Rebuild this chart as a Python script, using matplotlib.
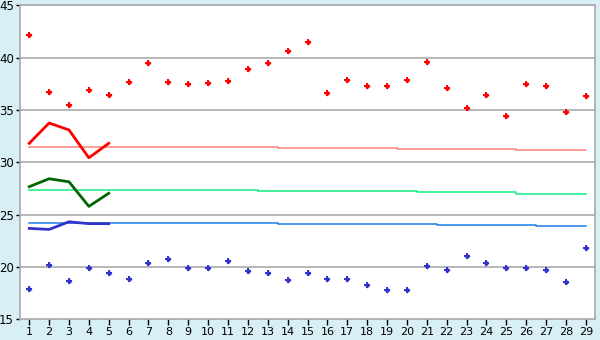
import matplotlib
matplotlib.use("Agg")
import matplotlib.pyplot as plt

x = list(range(1, 30))
x_short = [1, 2, 3, 4, 5]

red_points = [42.2, 36.7, 35.5, 36.9, 36.4, 37.65, 39.45, 37.65, 37.45, 37.55,
              37.75, 38.9, 39.45, 40.6, 41.45, 36.6, 37.9, 37.25, 37.25, 37.85,
              39.55, 37.15, 35.15, 36.4, 34.4, 37.45, 37.25, 34.8, 36.3]
blue_points = [17.9, 20.25, 18.65, 19.9, 19.4, 18.85, 20.35, 20.75, 19.95, 19.95,
               20.55, 19.6, 19.4, 18.75, 19.4, 18.85, 18.85, 18.25, 17.8, 17.8,
               20.15, 19.7, 21.1, 20.35, 19.9, 19.95, 19.75, 18.55, 21.85]

red_avg = [31.47] * 13 + [31.37] * 6 + [31.25] * 6 + [31.15] * 4
green_avg = [27.33] * 12 + [27.24] * 8 + [27.14] * 5 + [26.95] * 4
blue_avg = [24.18] * 13 + [24.08] * 8 + [23.99] * 5 + [23.89] * 3

red_line = [31.82, 33.76, 33.1, 30.44, 31.82]
green_line = [27.68, 28.44, 28.15, 25.8, 27.05]
blue_line = [23.7, 23.6, 24.33, 24.15, 24.15]

yticks = [15, 20, 25, 30, 35, 40, 45]

fig = plt.figure(figsize=(6, 3.4), dpi=100)
fig.patch.set_facecolor("#d9eff6")
ax = fig.add_axes([0.0338, 0.0603, 0.9584, 0.9241])
ax.set_facecolor("white")

for yv in yticks[1:]:
    ax.axhline(yv, color="#aaaaaa", lw=1.2, zorder=1)

ax.plot(x, red_avg, color="#ff7f7f", lw=1.1, drawstyle="steps-mid", zorder=2)
ax.plot(x, green_avg, color="#11ee80", lw=1.1, drawstyle="steps-mid", zorder=2)
ax.plot(x, blue_avg, color="#1a7fe8", lw=1.1, drawstyle="steps-mid", zorder=2)

ax.plot(x_short, red_line, color="#ff0000", lw=2, zorder=3)
ax.plot(x_short, green_line, color="#006600", lw=2, zorder=3)
ax.plot(x_short, blue_line, color="#3333cc", lw=2, zorder=3)

for vals, col in ((red_points, "#ff0000"), (blue_points, "#3333cc")):
    ax.plot(x, vals, linestyle="none", marker="P", ms=5, color=col, mew=0, zorder=4)
    ax.plot(x, vals, linestyle="none", marker="D", ms=3, color=col, mew=0, zorder=4)

ax.set_xlim(0.55, 29.48)
ax.set_ylim(15, 45)
ax.set_xticks(x)
ax.set_xticklabels([str(v) for v in x])
ax.set_yticks(yticks)
ax.set_yticklabels([str(v) for v in yticks])
for s in ax.spines.values():
    s.set_color("#aaaaaa")
    s.set_linewidth(1.2)
ax.tick_params(axis="x", labelsize=8, colors="black", length=4, width=1, pad=1.5)
ax.tick_params(axis="y", labelsize=8.5, colors="black", length=3, width=1, pad=1.5)

fig.savefig("out.png", dpi=100, facecolor=fig.get_facecolor())
